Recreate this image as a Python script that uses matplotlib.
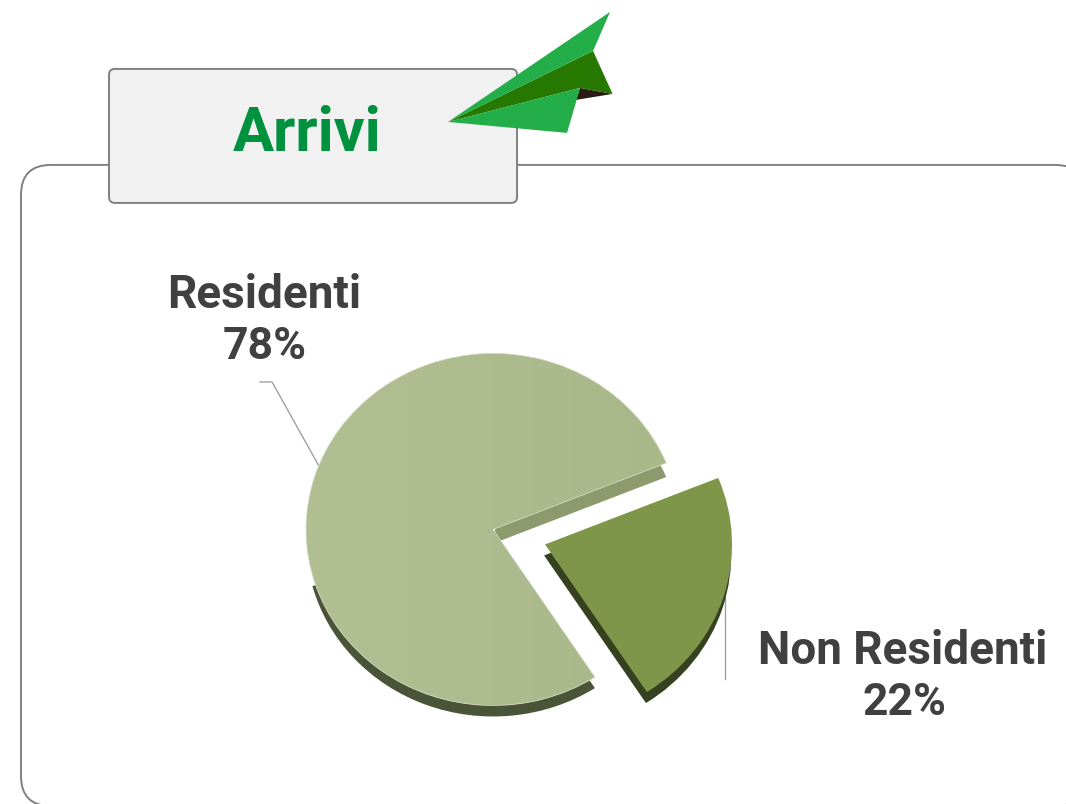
import matplotlib
matplotlib.use("Agg")
import matplotlib.pyplot as plt
from matplotlib.patches import FancyBboxPatch, Polygon, Wedge
import numpy as np

# data
categories = ["Non Residenti", "Residenti"]
values = [22, 78]
title = "Arrivi"

# colours
top_left = [178, 191, 147]
top_right = [168, 184, 137]
res_wall = "#8d9a6e"
res_dark = "#4a5438"
non_color = "#7f964a"
non_dark = "#36411f"
text_color = "#404040"
line_color = "#808080"

W, H = 1066, 804
fig = plt.figure(figsize=((W + 0.1) / 100, (H + 0.1) / 100), dpi=100)
plt.rcParams["font.family"] = ["Roboto", "DejaVu Sans"]

# background axes in pixels, for the frame, the plane and the texts
bg = fig.add_axes([0, 0, 1, 1], zorder=1)
bg.set_xlim(0, W)
bg.set_ylim(H, 0)
bg.axis("off")

bg.add_patch(FancyBboxPatch((21 + 30, 165 + 30), 1085 - 21 - 60, 806 - 165 - 60,
                            boxstyle="round,pad=30,rounding_size=30",
                            fc="white", ec=line_color, lw=1.4, clip_on=True))
bg.add_patch(FancyBboxPatch((109 + 6, 69 + 6), 408 - 12, 134 - 12,
                            boxstyle="round,pad=6,rounding_size=6",
                            fc="#f1f1f1", ec=line_color, lw=1.4, zorder=3))

# paper plane
bg.add_patch(Polygon([(580, 88), (612.5, 94), (576, 100)], fc="#2a1c12", ec="none", zorder=4))
bg.add_patch(Polygon([(448, 122), (593, 51), (612.5, 94), (580, 88)], fc="#267800", ec="none", zorder=4))
bg.add_patch(Polygon([(448, 122), (610, 12), (593, 51)], fc="#24ae4a", ec="none", zorder=5))
bg.add_patch(Polygon([(448, 122), (580, 88), (567, 133)], fc="#24ae4a", ec="none", zorder=5))

bg.text(307, 134, title, color="#00913f", fontsize=44, fontweight="bold", ha="center", va="center", zorder=6)

# leader lines
bg.plot([260, 272, 320], [382, 382, 468], color="#a0a0a0", lw=1)
bg.plot([725, 725], [597, 679], color="#a0a0a0", lw=1)

bg.text(264, 295, categories[1], color=text_color, fontsize=33, fontweight="bold", ha="center", va="center")
bg.text(265, 347, f"{values[1]}%", color=text_color, fontsize=32, fontweight="bold", ha="center", va="center")
bg.text(903, 651, categories[0], color=text_color, fontsize=33, fontweight="bold", ha="center", va="center")
bg.text(904, 703, f"{values[0]}%", color=text_color, fontsize=32, fontweight="bold", ha="center", va="center")

# pie axes, stretched a bit wider than tall like the original
cx, cy, rx, ry = 493, 529.5, 187, 176
ax = fig.add_axes([(cx - 1.5 * rx) / W, 1 - (cy + 1.5 * ry) / H, 3 * rx / W, 3 * ry / H], zorder=2)
ax.patch.set_alpha(0)

start = -57
non_center = (0.278, -0.085)
drop = 0.0625

# top face of the big slice, drawn first to get its angles
res_face, _ = ax.pie(values, startangle=start, colors=["none", res_wall], normalize=True,
                     wedgeprops={"ec": "none"})
big = res_face[1]
z = big.get_zorder()

# side walls
ax.add_patch(Wedge((0, -0.08), 1, big.theta1, big.theta1 + 60, fc=res_wall, ec="none", zorder=z - 0.5))
ax.add_patch(Wedge((0, -drop), 1, 195, big.theta2, fc=res_dark, ec="none", zorder=z - 0.5))
side, _ = ax.pie(values, startangle=start, center=(non_center[0] - 0.005, non_center[1] - drop),
                 colors=[non_dark, "none"], normalize=True, wedgeprops={"ec": "none"})
for w in side:
    w.set_zorder(z - 0.5)

# small slice face
ax.pie(values, startangle=start, center=non_center, colors=[non_color, "none"], normalize=True,
       wedgeprops={"ec": "none"})

# soft left-to-right gradient on the big slice
grad = np.linspace(0, 1, 256)[None, :, None]
img = np.array(top_left)[None, None, :] * (1 - grad) + np.array(top_right)[None, None, :] * grad
im = ax.imshow(img.astype(np.uint8), extent=(-1, 1, -1, 1), aspect="auto", zorder=z + 1)
im.set_clip_path(big)
ax.add_patch(Wedge((0, 0), 1, big.theta1, big.theta2, fc="none", ec="#dfe5d0", lw=0.5, zorder=z + 2))

ax.set_aspect("auto")
ax.set_xlim(-1.5, 1.5)
ax.set_ylim(-1.5, 1.5)
ax.axis("off")

fig.savefig("out.png", dpi=100)
